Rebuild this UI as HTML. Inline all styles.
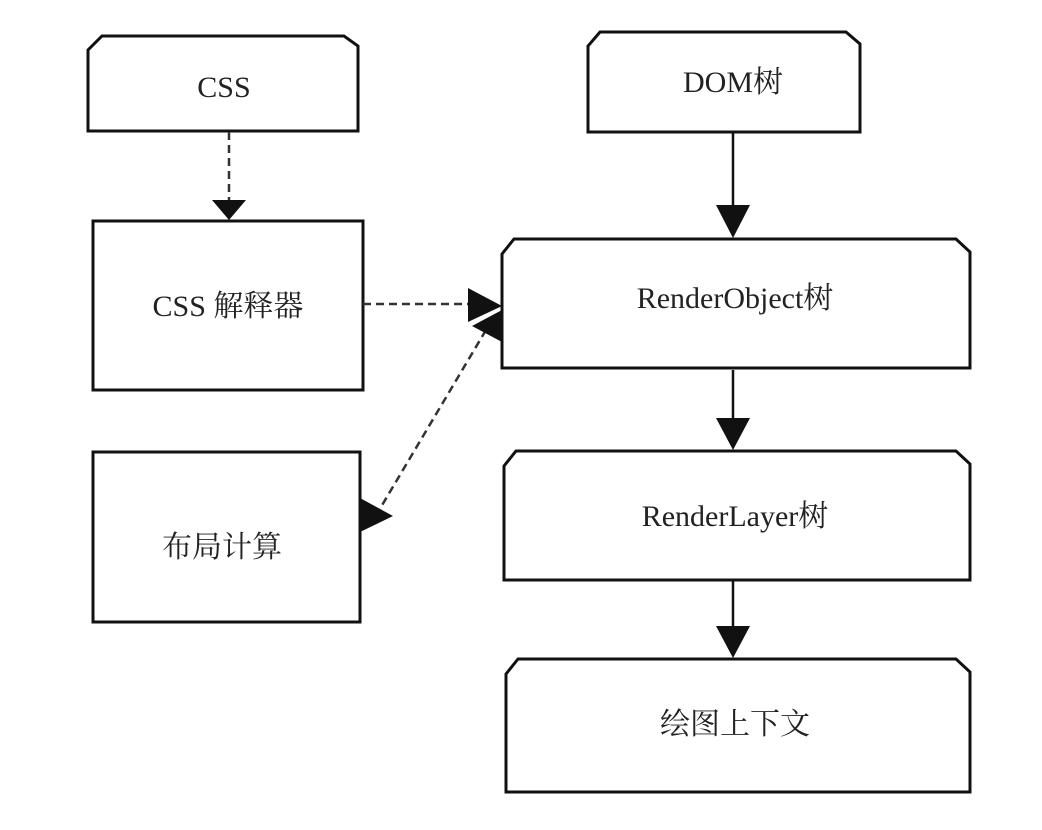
<!DOCTYPE html>
<html><head><meta charset="utf-8"><style>body{margin:0;background:#fff}</style></head><body>
<svg width="1042" height="830" xmlns="http://www.w3.org/2000/svg" style="display:block">
<rect width="1042" height="830" fill="#fff"/>
<g fill="#fff" stroke="#111" stroke-width="3">
<polygon points="88,131 88,50 102,36 344,36 358,46 358,131"/>
<rect x="93" y="221" width="270" height="169"/>
<rect x="93" y="452" width="267" height="170"/>
<polygon points="588,132 588,46 600,32 846,32 860,44 860,132"/>
<polygon points="502,368 502,254 514,239 956,239 970,252 970,368"/>
<polygon points="504,580 504,466 516,451 956,451 970,464 970,580"/>
<polygon points="506,792 506,674 518,659 956,659 970,672 970,792"/>
</g>
<g stroke="#333" stroke-width="2.5" fill="none">
<line x1="229" y1="132" x2="229" y2="200" stroke-dasharray="8,5"/>
<line x1="363" y1="304" x2="470" y2="304" stroke-dasharray="8,5"/>
<line x1="486" y1="330" x2="378" y2="512" stroke-dasharray="8,5"/>
<line x1="733" y1="132" x2="733" y2="205" stroke="#111"/>
<line x1="733" y1="370" x2="733" y2="418" stroke="#111"/>
<line x1="733" y1="580" x2="733" y2="626" stroke="#111"/>
</g>
<g fill="#111">
<polygon points="212,200 246,200 229,220"/>
<polygon points="716,205 750,205 733,238"/>
<polygon points="716,418 750,418 733,450"/>
<polygon points="716,626 750,626 733,658"/>
<polygon points="468,288 502,306 468,322"/>
<polygon points="472,326 502,310 502,342"/>
<polygon points="360,498 393,516 360,532"/>
</g>
<g font-family="'Liberation Serif','Noto Serif CJK SC',serif" font-size="30" fill="#222" text-anchor="middle">
<text x="224" y="97">CSS</text>
<text x="228" y="316">CSS 解释器</text>
<text x="222" y="557">布局计算</text>
<text x="733" y="92">DOM树</text>
<text x="735" y="308">RenderObject树</text>
<text x="735" y="526">RenderLayer树</text>
<text x="735" y="734">绘图上下文</text>
</g>
</svg>
</body></html>
